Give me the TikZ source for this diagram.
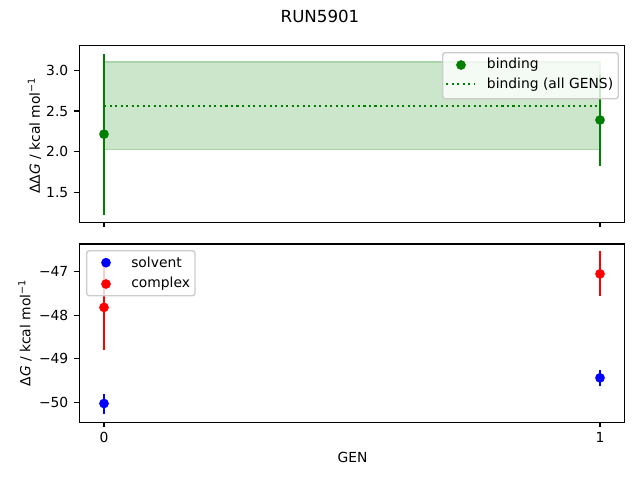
\documentclass[tikz,border=0pt]{standalone}
\usepackage{fontspec}
\setmainfont{DejaVu Sans}
\definecolor{mplgreen}{HTML}{008000}
\definecolor{mplblue}{HTML}{0000FF}
\definecolor{mplred}{HTML}{FF0000}
\definecolor{band}{HTML}{CCE6CC}
\definecolor{bandedge}{HTML}{A8D4A8}
\begin{document}
\begin{tikzpicture}[
    x=0.75pt, y=0.75pt,
    frm/.style={line width=0.83pt, black},
    tck/.style={line width=0.83pt, black},
    lbl/.style={font=\fontsize{10.4}{12}\selectfont, inner sep=0pt},
    eb/.style={line width=1.56pt},
    dot/.style={circle, fill, inner sep=0pt, minimum size=7.3pt},
    lgd/.style={draw=black!20, fill=white, fill opacity=0.8, rounded corners=2pt, line width=1.04pt}
  ]
  \useasboundingbox (0,0) rectangle (640,480);
  \node[font=\fontsize{12.5}{14}\selectfont, inner sep=0pt] (title) at (320,464) {RUN5901};
  % top axes: binding
  \begin{scope}[shift={(104,165.7)}, x=372pt, y=61pt]
    \filldraw[fill=band, draw=bandedge, line width=1pt] (0,2.029) rectangle (1,3.102);
    \draw[mplgreen, line width=1.56pt, dash pattern=on 1.56pt off 2.58pt] (0,2.565) -- (1,2.565);
    \foreach \g/\v/\e in {0/2.215/0.988, 1/2.389/0.562} {
      \draw[eb, mplgreen] (\g,\v-\e) -- (\g,\v+\e);
      \node[dot, mplgreen] (bind\g) at (\g,\v) {};
    }
    \draw[frm] (-0.05,1.134) rectangle (1.05,3.308);
    \foreach \g in {0,1} {
      \draw[tck] (\g,1.134) -- ++(0,-3.65pt);
    }
    \foreach \t [count=\i] in {1.5,2.0,2.5,3.0} {
      \draw[tck] (-0.05,\t) -- ++(-3.65pt,0);
      \node[lbl, anchor=east] (ty\i) at ([xshift=-8pt]-0.05,\t) {\t};
    }
  \end{scope}
  % bottom axes: solvent and complex
  \begin{scope}[shift={(104,2252.8)}, x=372pt, y=32.625pt]
    \foreach \g/\v/\e in {0/-50.03/0.23, 1/-49.44/0.19} {
      \draw[eb, mplblue] (\g,\v-\e) -- (\g,\v+\e);
      \node[dot, mplblue] (solv\g) at (\g,\v) {};
    }
    \foreach \g/\v/\e in {0/-47.82/0.98, 1/-47.05/0.52} {
      \draw[eb, mplred] (\g,\v-\e) -- (\g,\v+\e);
      \node[dot, mplred] (cplx\g) at (\g,\v) {};
    }
    \draw[frm] (-0.05,-50.462) rectangle (1.05,-46.363);
    \foreach \g in {0,1} {
      \draw[tck] (\g,-50.462) -- ++(0,-3.65pt);
      \node[lbl, anchor=north] (tx\g) at ([yshift=-7.3pt]\g,-50.462) {\g};
    }
    \foreach \t in {47,48,49,50} {
      \draw[tck] (-0.05,-\t) -- ++(-3.65pt,0);
      \node[lbl, anchor=east] (tb\t) at ([xshift=-8pt]-0.05,-\t) {−\t};
    }
  \end{scope}
  % axis labels
  \node[lbl, rotate=90] (ylbltop) at (34.5,344.5) {ΔΔ\textit{G} / kcal mol\textsuperscript{−1}};
  \node[lbl, rotate=90] (ylblbot) at (25,147) {Δ\textit{G} / kcal mol\textsuperscript{−1}};
  \node[lbl] (xlbl) at (352.5,23) {GEN};
  % legends
  \draw[lgd] (442.7,427.3) rectangle (618.3,381.3);
  \node[dot, mplgreen] (lgbind) at (461,415) {};
  \node[lbl, anchor=west] (lgbindtxt) at (486.7,415) {binding};
  \coordinate (lgallA) at (446,395.7);
  \coordinate (lgallB) at (475,395.7);
  \draw[mplgreen, line width=1.56pt, dash pattern=on 1.56pt off 2.58pt] (lgallA) -- (lgallB);
  \node[lbl, anchor=west] (lgalltxt) at (486.7,395.7) {binding (all GENS)};
  \draw[lgd] (86.7,229.3) rectangle (195,184.3);
  \node[dot, mplblue] (lgsolv) at (106,217.3) {};
  \node[lbl, anchor=west] (lgsolvtxt) at (131,217.3) {solvent};
  \node[dot, mplred] (lgcplx) at (106,196) {};
  \node[lbl, anchor=west] (lgcplxtxt) at (131,196) {complex};
\end{tikzpicture}
\end{document}
